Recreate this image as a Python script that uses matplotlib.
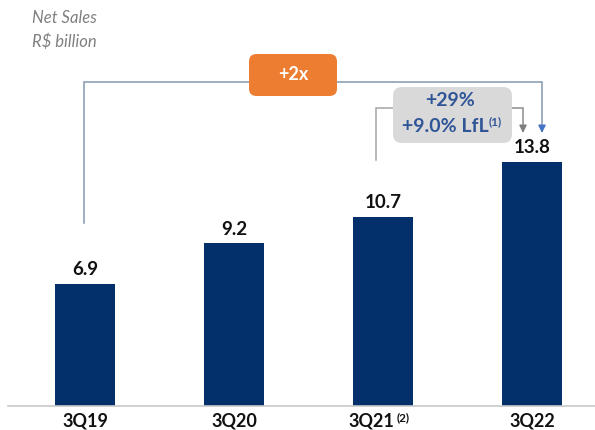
import matplotlib
matplotlib.use("Agg")
import matplotlib.pyplot as plt
from matplotlib.patches import FancyBboxPatch
from matplotlib.transforms import ScaledTranslation

categories = ["3Q19", "3Q20", "3Q21", "3Q22"]
net_sales = [6.9, 9.2, 10.7, 13.8]
value_labels = ["6.9", "9.2", "10.7", "13.8"]
growth_total = "+2x"
growth_yoy = "+29%"
growth_lfl = "+9.0% LfL"

plt.rcParams['font.family'] = ['Lato', 'DejaVu Sans']

W, H = 595, 430
fig = plt.figure(figsize=(W / 100, H / 100), dpi=100)
ax_left, ax_bottom = 8 / W, (H - 406) / H
ax = fig.add_axes([ax_left, ax_bottom, 1 - ax_left, 1 - ax_bottom])

px_x = 149.0   # px per category
px_y = 17.7    # px per unit
x0 = (8 - 85) / px_x
ax.set_xlim(x0, x0 + (W - 8) / px_x)
ax.set_ylim(0, 406 / px_y)

navy = '#03306b'
bars = ax.bar(range(len(categories)), net_sales, width=0.4, color=navy)

for i, (v, lab) in enumerate(zip(net_sales, value_labels)):
    ax.annotate(lab, (i, v), xytext=(0, 4), textcoords='offset points',
                ha='center', va='bottom', fontsize=13.5, fontweight='bold', color='#111111')

for s in ['top', 'right', 'left']:
    ax.spines[s].set_visible(False)
ax.spines['bottom'].set_color('#c8c8c8')
ax.spines['bottom'].set_linewidth(1.2)
ax.set_yticks([])
ax.set_xticks(range(len(categories)))
ax.set_xticklabels(categories, fontsize=13, fontweight='bold', color='#111111')
ax.tick_params(axis='x', length=0, pad=5)
lab3 = ax.get_xticklabels()[2]
lab3.set_transform(lab3.get_transform() + ScaledTranslation(-11.5 / 100, 0, fig.dpi_scale_trans))


# conversions from pixel coordinates of reference
def X(px):
    return (px - 85) / px_x


def Y(py):
    return (406 - py) / px_y


ax.text(X(397), Y(418), "(2)", fontsize=8.5, fontweight='bold', color='#111111',
        ha='left', va='center', clip_on=False)

# +2x bracket
blue_line = '#8497b0'
ax.plot([X(84), X(84), X(542), X(542)], [Y(223), Y(82), Y(82), Y(127)],
        color=blue_line, lw=1.1, solid_joinstyle='miter')
ax.annotate('', xy=(X(542), Y(133)), xytext=(X(542), Y(126)),
            arrowprops=dict(arrowstyle='-|>,head_length=0.45,head_width=0.22',
                            color='#4472c4', lw=1.0, shrinkA=0, shrinkB=0))

asp = px_x / px_y
orange = FancyBboxPatch((X(249), Y(96)), X(337) - X(249), Y(54) - Y(96),
                        boxstyle='round,pad=0,rounding_size=0.05',
                        mutation_aspect=asp, facecolor='#ed7d31', edgecolor='none', zorder=3)
ax.add_patch(orange)
ax.text((X(249) + X(337)) / 2, Y(75), growth_total, ha='center', va='center',
        color='white', fontsize=13, fontweight='bold', zorder=4)

# +29% bracket
gray_line = '#8c8c8c'
ax.plot([X(376), X(376), X(393)], [Y(160), Y(108), Y(108)],
        color='#a6a6a6', lw=1.1, solid_joinstyle='miter')
ax.plot([X(512), X(523), X(523)], [Y(108), Y(108), Y(127)],
        color=gray_line, lw=1.1, solid_joinstyle='miter')
ax.annotate('', xy=(X(523), Y(133)), xytext=(X(523), Y(126)),
            arrowprops=dict(arrowstyle='-|>,head_length=0.45,head_width=0.22',
                            color='#7f7f7f', lw=1.0, shrinkA=0, shrinkB=0))

graybox = FancyBboxPatch((X(393), Y(143)), X(512) - X(393), Y(87) - Y(143),
                         boxstyle='round,pad=0,rounding_size=0.06',
                         mutation_aspect=asp, facecolor='#d9d9d9', edgecolor='none', zorder=3)
ax.add_patch(graybox)
blue_txt = '#2f5597'
cx = (X(393) + X(512)) / 2
ax.text(X(450), Y(101), growth_yoy, ha='center', va='center', color=blue_txt,
        fontsize=14, fontweight='bold', zorder=4)
ax.text(X(445.5), Y(127), growth_lfl, ha='center', va='center', color=blue_txt,
        fontsize=14, fontweight='bold', zorder=4)
ax.text(X(489), Y(122), "(1)", ha='left', va='center', color=blue_txt,
        fontsize=8.5, fontweight='bold', zorder=4)

# title
fig.text(32 / W, 1 - 18 / H, "Net Sales", ha='left', va='center', fontsize=12,
         style='italic', color='#808080')
fig.text(32 / W, 1 - 42 / H, "R$ billion", ha='left', va='center', fontsize=12,
         style='italic', color='#808080')

fig.savefig('out.png', dpi=100)
